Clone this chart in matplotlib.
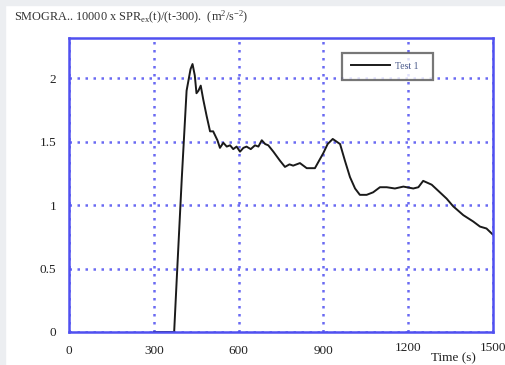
import matplotlib
matplotlib.use("Agg")
import matplotlib.pyplot as plt
import numpy as np

plt.rcParams['font.family'] = ['Liberation Serif', 'DejaVu Serif']
plt.rcParams['mathtext.fontset'] = 'custom'
plt.rcParams['mathtext.rm'] = 'Liberation Serif'
plt.rcParams['mathtext.it'] = 'Liberation Serif'

time_s = [300, 372, 381, 399, 416, 430, 437, 445, 451, 458, 466, 475, 487, 499, 510, 525,
          534, 546, 558, 570, 581, 593, 605, 617, 628, 643, 658, 670, 682, 694, 705, 723,
          746, 764, 780, 793, 817, 841, 870,
          900, 915, 933, 959, 976, 994, 1012, 1029, 1053, 1076, 1100, 1124, 1153, 1183,
          1218, 1236, 1253, 1283, 1312, 1336, 1359, 1395, 1430, 1454, 1477, 1498]
smogra = [0.0, 0.0, 0.41, 1.21, 1.90, 2.07, 2.11, 2.02, 1.88, 1.90, 1.94, 1.83, 1.70, 1.58,
          1.58, 1.51, 1.45, 1.49, 1.46, 1.47, 1.44, 1.46, 1.42, 1.45, 1.46, 1.44, 1.47,
          1.46, 1.51, 1.48, 1.47, 1.42, 1.35, 1.30, 1.32, 1.31, 1.33, 1.29, 1.29, 1.41,
          1.48, 1.52, 1.48, 1.35, 1.22, 1.13, 1.08, 1.08,
          1.10, 1.14, 1.14, 1.13, 1.145, 1.13, 1.14, 1.19, 1.16, 1.10, 1.05, 0.99, 0.92,
          0.87, 0.83, 0.815, 0.77]
x_ticks = [0, 300, 600, 900, 1200, 1500]
y_ticks = [0, 0.5, 1, 1.5, 2]
y_tick_labels = ['0', '0.5', '1', '1.5', '2']
series_label = 'Test 1'

blue = '#5050f0'
fig = plt.figure(figsize=(5.05, 3.65), dpi=100)
fig.patch.set_facecolor('white')
fig.add_artist(plt.Rectangle((0, 0.985), 1, 0.015, transform=fig.transFigure,
                             color='#eceef1', zorder=0))
fig.add_artist(plt.Rectangle((0, 0), 0.01, 1, transform=fig.transFigure,
                             color='#eceef1', zorder=0))

ax = fig.add_axes([69/505, 1-332/365, (493-69)/505, (332-38)/365])
ax.plot(time_s, smogra, color='#1a1a1a', lw=1.4, label=series_label)
ax.set_xlim(0, 1500)
ax.set_ylim(0, 2.315)
ax.set_xticks(x_ticks)
ax.set_xticklabels([str(v) for v in x_ticks])
ax.set_yticks(y_ticks)
ax.set_yticklabels(y_tick_labels)
ax.grid(True, color=blue, ls=(0, (1, 2.2)), lw=1.8, alpha=0.85)
for s in ax.spines.values():
    s.set_color(blue)
    s.set_linewidth(1.8)
ax.tick_params(axis='both', length=0, labelsize=9.5, colors='#222222')
ax.tick_params(axis='x', pad=9)
ax.tick_params(axis='y', pad=9)
for lab in ax.get_xticklabels():
    if lab.get_text() in ('1200', '1500'):
        lab.set_y(0.008)

leg = ax.legend(loc='upper left', bbox_to_anchor=((342-69)/424, (332-53)/294),
                frameon=True, fancybox=False, fontsize=7, handlelength=4.0,
                borderpad=0.9, handletextpad=0.6, borderaxespad=0)
leg.get_frame().set_edgecolor('#555555')
leg.get_frame().set_linewidth(1.6)
for t in leg.get_texts():
    t.set_color('#4a5a8a')
    t.set_text(series_label + '  ')

fig.text(14/505, 1-17/365, 'SMOGRA.. 10000 x SPR$_{ex}$(t)/(t-300).  (m$^{2}$/s$^{-2}$)',
         fontsize=8.8, va='center', ha='left', color='#333333')
fig.text(453/505, 1/365, 'Time (s)', fontsize=9.5, va='bottom', ha='center', color='#222222')

fig.savefig('out.png', dpi=100)
